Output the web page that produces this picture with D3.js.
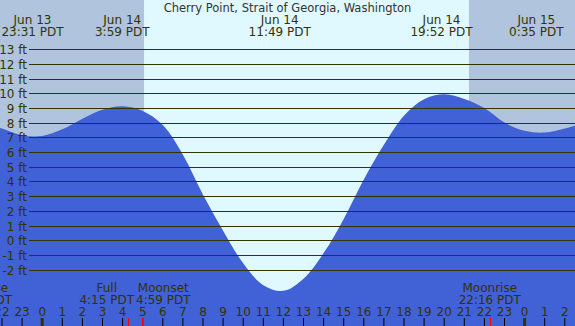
<!DOCTYPE html>
<html>
<head>
<meta charset="utf-8">
<script src="https://cdn.jsdelivr.net/npm/d3@7"></script>
<style>
  body { margin: 0; background: #fff; }
  svg { display: block; font-family: "DejaVu Sans", sans-serif; }
</style>
</head>
<body>
<div id="chart"></div>
<script>
const title = "Cherry Point, Strait of Georgia, Washington";

// hours relative to Jun 14 00:00 PDT, heights in ft
const tideHours   = [-3, -2, -1, 0, 1, 2, 3, 4, 5, 6, 7, 8, 9, 10, 11, 12, 13, 14, 15, 16, 17, 18, 19, 20, 21, 22, 23, 24, 25, 26, 27];
const tideHeights = [8.1, 7.6, 7.15, 7.1, 7.55, 8.27, 8.88, 9.12, 8.8, 7.84, 5.82, 3.1, 0.65, -1.57, -3.06, -3.45, -2.62, -0.88, 1.45, 4.13, 6.5, 8.48, 9.6, 9.94, 9.62, 9.0, 8.01, 7.45, 7.33, 7.6, 8.0];

// high / low tide labels along the top
const extremeDays  = [-1, 0, 0, 0, 1];
const extremeTimes = ["23:31", "3:59", "11:49", "19:52", "0:35"];
const extremeDates = ["Jun 13", "Jun 14", "Jun 14", "Jun 14", "Jun 15"];

// moon events along the bottom
const moonDays   = [-1, 0, 0, 0];
const moonTimes  = ["20:57", "4:15", "4:59", "22:16"];
const moonLabels = ["Moonrise", "Full", "Moonset", "Moonrise"];

// daylight
const sunrise = "5:04", sunset = "21:14";

const ftTicks = [-2, -1, 0, 1, 2, 3, 4, 5, 6, 7, 8, 9, 10, 11, 12, 13];
const hourTicks = [-2, -1, 0, 1, 2, 3, 4, 5, 6, 7, 8, 9, 10, 11, 12, 13, 14, 15, 16, 17, 18, 19, 20, 21, 22, 23, 24, 25, 26];

function toHour(day, hm) {
  const [h, m] = hm.split(":").map(Number);
  return day * 24 + h + m / 60;
}

const width = 575, height = 326;
const txt = "#333300";

const x = d3.scaleLinear().domain([0, 24]).range([42.2, 524.6]);
const y = d3.scaleLinear().domain([0, 13]).range([240.2, 49.3]);

const svg = d3.select("#chart").append("svg")
  .attr("width", width).attr("height", height);

// night / day background
svg.append("rect").attr("width", width).attr("height", height).attr("fill", "#b0c4de");
const sr = toHour(0, sunrise), ss = toHour(0, sunset);
svg.append("rect")
  .attr("x", x(sr)).attr("y", 0)
  .attr("width", x(ss) - x(sr)).attr("height", height)
  .attr("fill", "#e0f8ff");

// water
const tide = tideHours.map((h, i) => ({ h, v: tideHeights[i] }));
const area = d3.area()
  .x(d => x(d.h))
  .y0(height)
  .y1(d => y(d.v))
  .curve(d3.curveCatmullRom);
svg.append("path").datum(tide)
  .attr("d", area)
  .attr("fill", "#4161d6");

// grid lines + labels
const grid = svg.append("g");
grid.selectAll("line").data(ftTicks).join("line")
  .attr("x1", 29).attr("x2", width)
  .attr("y1", d => Math.round(y(d)) + 0.5)
  .attr("y2", d => Math.round(y(d)) + 0.5)
  .attr("stroke", txt).attr("stroke-width", 1);
grid.selectAll("text").data(ftTicks).join("text")
  .attr("x", 27)
  .attr("y", d => Math.round(y(d)) + 4.5)
  .attr("text-anchor", "end")
  .attr("font-size", 12)
  .attr("fill", txt)
  .text(d => d + " ft");

// title
svg.append("text")
  .attr("x", width / 2).attr("y", 12)
  .attr("text-anchor", "middle")
  .attr("font-size", 11.5)
  .attr("fill", "#333")
  .text(title);

// tide extremes
const ext = svg.append("g").attr("text-anchor", "middle").attr("font-size", 12).attr("fill", txt);
extremeTimes.forEach((t, i) => {
  const cx = x(toHour(extremeDays[i], t));
  ext.append("text").attr("x", cx).attr("y", 23.5).text(extremeDates[i]);
  ext.append("text").attr("x", cx).attr("y", 35.5).text(t + " PDT");
});

// hour axis
const axis = svg.append("g");
axis.selectAll("line").data(hourTicks).join("line")
  .attr("x1", d => x(d)).attr("x2", d => x(d))
  .attr("y1", 318).attr("y2", height)
  .attr("stroke", d => (d % 24 === 0 ? txt : "#000"))
  .attr("stroke-width", d => (d % 24 === 0 ? 3 : 1));
axis.selectAll("text").data(hourTicks).join("text")
  .attr("x", d => x(d))
  .attr("y", 316)
  .attr("text-anchor", "middle")
  .attr("font-size", 12)
  .attr("fill", txt)
  .text(d => ((d % 24) + 24) % 24);

// moon events: two centred lines per label, blocks that collide
// are pushed apart to the midpoint of their ticks
const moon = moonTimes.map((t, i) => ({ h: toHour(moonDays[i], t), label: moonLabels[i], time: t + " PDT" }));
const mg = svg.append("g").attr("font-size", 12).attr("fill", txt).attr("text-anchor", "middle");
moon.forEach(d => {
  d.x = x(d.h);
  d.g = mg.append("g");
  const t1 = d.g.append("text").attr("y", 291.5).text(d.label);
  const t2 = d.g.append("text").attr("y", 303.5).text(d.time);
  d.w = Math.max(t1.node().getComputedTextLength(), t2.node().getComputedTextLength());
  d.cx = d.x;
});
for (let i = 1; i < moon.length; i++) {
  const a = moon[i - 1], b = moon[i];
  if ((a.cx + a.w / 2) > (b.cx - b.w / 2)) {
    const mid = (a.x + b.x) / 2;
    a.cx = mid - a.w / 2 - 1;
    b.cx = mid + b.w / 2 + 1;
  }
}
moon.forEach(d => d.g.attr("transform", `translate(${d.cx},0)`));
svg.append("g").selectAll("line").data(moon).join("line")
  .attr("x1", d => Math.round(d.x) + 0.5).attr("x2", d => Math.round(d.x) + 0.5)
  .attr("y1", 318).attr("y2", height)
  .attr("stroke", "red").attr("stroke-width", 1);
</script>
</body>
</html>
